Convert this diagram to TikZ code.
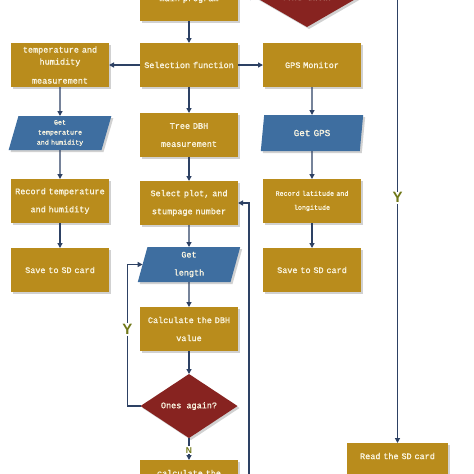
\documentclass[tikz,border=0pt]{standalone}
\usepackage{fontspec}
\newfontfamily\flowfont{Liberation Mono}[FakeBold=1.2]
\newfontfamily\markfont{Liberation Sans}
\usepackage{tikz}
\usetikzlibrary{positioning, shapes.geometric, arrows.meta, shadows}
\definecolor{boxgold}{RGB}{185,140,28}
\definecolor{iosteel}{RGB}{62,110,160}
\definecolor{askred}{RGB}{135,35,32}
\definecolor{linenavy}{RGB}{45,65,100}
\definecolor{ylgreen}{RGB}{112,120,24}
\definecolor{boxtext}{RGB}{250,245,225}

\begin{document}
\begin{tikzpicture}[x=1pt, y=-1pt,
    box/.style={rectangle, fill=boxgold, text=boxtext, minimum width=98pt, minimum height=44pt, text width=96pt, inner sep=1pt, outer sep=0pt, align=center, font=\flowfont\fontsize{8.5}{18}\selectfont, drop shadow={shadow xshift=2pt, shadow yshift=-2pt, fill=black!18, opacity=1}},
    iobox/.style={trapezium, trapezium left angle=73, trapezium right angle=107, trapezium stretches=true, fill=iosteel, text=boxtext, minimum width=103pt, minimum height=35pt, text width=70pt, inner sep=1pt, outer sep=0pt, align=center, font=\flowfont\fontsize{8.5}{18}\selectfont, drop shadow={shadow xshift=2pt, shadow yshift=-2pt, fill=black!18, opacity=1}},
    decision/.style={diamond, fill=askred, text=boxtext, minimum width=97pt, minimum height=52pt, inner sep=0pt, outer sep=0pt, align=center, font=\flowfont\fontsize{8.5}{18}\selectfont, drop shadow={shadow xshift=2pt, shadow yshift=-2pt, fill=black!18, opacity=1}},
    arrow/.style={-{Triangle[length=5pt, width=5pt]}, draw=linenavy, line width=1.2pt},
    yn/.style={font=\markfont\bfseries\fontsize{15}{15}\selectfont, text=ylgreen, fill=white, inner sep=1pt}
]

\useasboundingbox (0,0) rectangle (474,474);
\clip (0,0) rectangle (474,474);
\fill[white] (0,0) rectangle (474,474);

% Main column
\node[box] (sel) at (189,65) {Selection function};
\node[box, above=22pt of sel] (main) {main program};
\node[box, below=26pt of sel] (tree) {Tree DBH\\measurement};
\node[box, below=24pt of tree] (plot) {Select plot, and\\stumpage number};
\node[iobox, below=22pt of plot] (len) {Get\\length};
\node[box, below=25pt of len] (calc) {Calculate the DBH\\value};
\node[decision, below=23pt of calc] (again) {Ones again?};
\node[box, below=22pt of again] (avg) {calculate the\\\mbox{}};

% Temperature column
\node[box, left=31pt of sel, font=\flowfont\fontsize{8.5}{12}\selectfont] (temp) {temperature and\\humidity\\[7pt]measurement};
\node[iobox, below=29pt of temp, minimum height=34pt, font=\flowfont\fontsize{6.7}{10}\selectfont] (gettemp) {Get\\temperature\\and humidity};
\node[box, below=29pt of gettemp] (rectemp) {Record temperature\\and humidity};
\node[box, below=25pt of rectemp] (savetemp) {Save to SD card};

% GPS column
\node[box, right=25pt of sel] (gps) {GPS Monitor};
\node[iobox, below=28pt of gps, minimum height=36pt, font=\flowfont\fontsize{9.3}{18}\selectfont] (getgps) {Get GPS};
\node[box, below=28pt of getgps, font=\flowfont\fontsize{6.7}{14}\selectfont] (recgps) {Record latitude and\\longitude};
\node[box, below=25pt of recgps] (savegps) {Save to SD card};

% Sending
\node[decision, right=17pt of main, yshift=2pt, minimum width=104pt, minimum height=60pt] (send) {\raisebox{-5pt}{Send data?}};
\node[box, minimum width=101pt, text width=99pt] (read) at (397.5,465) {Read the SD card\\\mbox{}};
\coordinate (back) at (249,490);

% Connections
\draw[arrow] (main) -- (sel);
\draw[arrow] (main.east) -- (send.west);
\draw[arrow] (sel) -- (temp);
\draw[arrow] (sel) -- (gps);
\draw[arrow] (sel) -- (tree);
\draw[arrow] (temp) -- (gettemp);
\draw[arrow] (gettemp) -- (rectemp);
\draw[arrow] (rectemp) -- (savetemp);
\draw[arrow] (tree) -- (plot);
\draw[arrow] (plot) -- (len);
\draw[arrow] (len) -- (calc);
\draw[arrow] (calc) -- (again);
\draw[arrow] (again) -- node[yn, font=\markfont\bfseries\fontsize{8.5}{8.5}\selectfont, pos=0.55] {N} (avg);
\draw[arrow] (gps) -- (getgps);
\draw[arrow] (getgps) -- (recgps);
\draw[arrow] (recgps) -- (savegps);

% Loops
\draw[arrow] (again.west) -- ++(-13,0) |- node[yn, pos=0.27] {Y} (len.west);
\draw[arrow] (back) |- (plot.east);
\draw[arrow] (send.east) -| node[yn, pos=0.725] {Y} (read.north);

\end{tikzpicture}
\end{document}
